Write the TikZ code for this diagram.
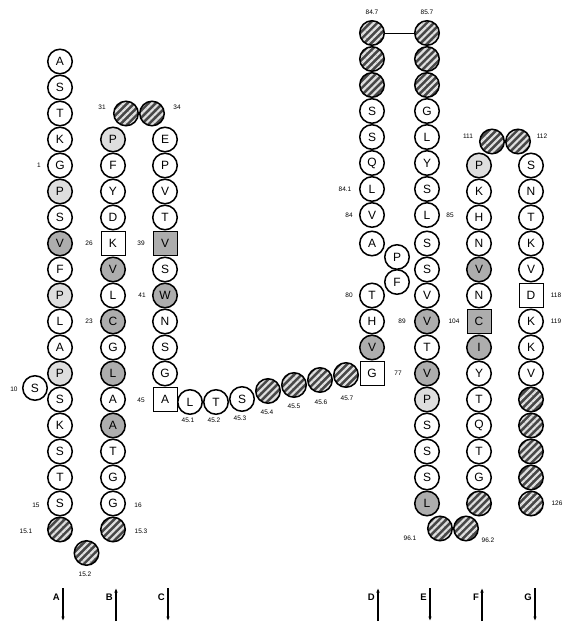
\documentclass[tikz,border=0pt]{standalone}
\usepackage{fontspec}
\setsansfont{Liberation Sans}
\usetikzlibrary{patterns.meta,arrows.meta}
\begin{document}
\begin{tikzpicture}[x=1pt,y=-1pt,
 res/.style={circle, draw, line width=1.5pt, minimum size=24.5pt, inner sep=0pt, fill=white, font=\sffamily\fontsize{12}{12}\selectfont},
 gr/.style={res, fill=black!32},
 lgr/.style={res, fill=black!13},
 sq/.style={rectangle, draw, line width=1pt, minimum size=24pt, inner sep=0pt, fill=white, font=\sffamily\fontsize{12}{12}\selectfont},
 sqg/.style={sq, fill=black!32},
 hat/.style={circle, draw, line width=1.5pt, minimum size=24.5pt, inner sep=0pt, preaction={fill=black!72}, pattern={Lines[angle=45,distance=5pt,line width=2.2pt]}, pattern color=white!88!black},
 lab/.style={font=\sffamily\fontsize{6.5}{6.5}\selectfont, inner sep=0pt},
 arr/.style={-{Latex[length=4.5pt,width=3.5pt]}, line width=1.1pt},
 alab/.style={font=\sffamily\bfseries\fontsize{9.5}{9.5}\selectfont, inner sep=0pt}
]
\useasboundingbox (0,0) rectangle (564,623);
% Helix A
\foreach \l/\s [count=\i from 0] in {A/res,S/res,T/res,K/res,G/res,P/lgr,S/res,V/gr,F/res,P/lgr,L/res,A/res,P/lgr,S/res,K/res,S/res,T/res,S/res}
  \node[\s] (a\i) at (60,{61.5+26*\i}) {\l};
\node[res] (aside) at (35,388) {S};
\node[hat] (l151) at (60,529.5) {};
\node[hat] (l152) at (86.5,553) {};
\node[hat] (l153) at (113,529.5) {};
% Helix B
\foreach \l/\s [count=\i from 3] in {P/lgr,F/res,Y/res,D/res,K/sq,V/gr,L/res,C/gr,G/res,L/gr,A/res,A/gr,T/res,G/res,G/res}
  \node[\s] (b\i) at (113,{61.5+26*\i}) {\l};
\node[hat] (l31) at (126,113.5) {};
\node[hat] (l34) at (152,113.5) {};
% Helix C
\foreach \l/\s [count=\i from 3] in {E/res,P/res,V/res,T/res,V/sqg,S/res,W/gr,N/res,S/res,G/res,A/sq}
  \node[\s] (c\i) at (165,{61.5+26*\i}) {\l};
% Horizontal segment
\node[res] (h1) at (190,402) {L};
\node[res] (h2) at (216,402) {T};
\node[res] (h3) at (242,399) {S};
\node[hat] (h4) at (268,391) {};
\node[hat] (h5) at (294,385) {};
\node[hat] (h6) at (320,380) {};
\node[hat] (h7) at (346,375) {};
% Helix D
\node[sq] (d77) at (372,373.5) {G};
\node[gr] (d78) at (372,347.5) {V};
\node[res] (d79) at (372,321.5) {H};
\node[res] (d80) at (372,295.5) {T};
\node[res] (d81) at (397,282) {F};
\node[res] (d82) at (397,257) {P};
\node[res] (d83) at (372,243.5) {A};
\foreach \l/\s [count=\i from 0] in {V/res,L/res,Q/res,S/res,S/res}
  \node[\s] (d\i) at (372,{215-26*\i}) {\l};
\node[hat] (d5) at (372,85) {};
\node[hat] (d6) at (372,59) {};
\node[hat] (d7) at (372,33) {};
% Helix E
\node[hat] (e7) at (427,33) {};
\node[hat] (e6) at (427,59) {};
\node[hat] (e5) at (427,85) {};
\foreach \l/\s [count=\i from 0] in {L/res,S/res,Y/res,L/res,G/res}
  \node[\s] (e\i) at (427,{215-26*\i}) {\l};
\foreach \l/\s [count=\i from 7] in {S/res,S/res,V/res,V/gr,T/res,V/gr,P/lgr,S/res,S/res,S/res,L/gr}
  \node[\s] (ee\i) at (427,{61.5+26*\i}) {\l};
\node[hat] (l961) at (440,528.5) {};
\node[hat] (l962) at (466,528.5) {};
% Helix F
\foreach \l/\s [count=\i from 4] in {P/lgr,K/res,H/res,N/res,V/gr,N/res,C/sqg,I/gr,Y/res,T/res,Q/res,T/res,G/res}
  \node[\s] (f\i) at (479,{61.5+26*\i}) {\l};
\node[hat] (f17) at (479,503.5) {};
\node[hat] (l111) at (492,141.5) {};
\node[hat] (l112) at (518,141.5) {};
% Helix G
\foreach \l/\s [count=\i from 4] in {S/res,N/res,T/res,K/res,V/res,D/sq,K/res,K/res,V/res}
  \node[\s] (g\i) at (531,{61.5+26*\i}) {\l};
\foreach \i in {13,...,17}
  \node[hat] (g\i) at (531,{61.5+26*\i}) {};
% connector at top
\draw[line width=0.9pt] (d7) -- (e7);
% labels
\node[lab] (t1) at (39,165.5) {1};
\node[lab] (t10) at (14,389) {10};
\node[lab] (t15) at (36,505) {15};
\node[lab] (t151) at (26,531) {15.1};
\node[lab] (t152) at (85,574) {15.2};
\node[lab] (t153) at (141,531) {15.3};
\node[lab] (t16) at (138,505) {16};
\node[lab] (t23) at (89,321.5) {23};
\node[lab] (t26) at (89,243.5) {26};
\node[lab] (t31) at (102,107) {31};
\node[lab] (t34) at (177,107) {34};
\node[lab] (t39) at (141,243.5) {39};
\node[lab] (t41) at (142,295.5) {41};
\node[lab] (t45) at (141,400) {45};
\node[lab] (t451) at (188,420) {45.1};
\node[lab] (t452) at (214,420) {45.2};
\node[lab] (t453) at (240,418) {45.3};
\node[lab] (t454) at (267,412) {45.4};
\node[lab] (t455) at (294,406) {45.5};
\node[lab] (t456) at (321,402) {45.6};
\node[lab] (t457) at (347,398) {45.7};
\node[lab] (t77) at (398,373.5) {77};
\node[lab] (t80) at (349,295.5) {80};
\node[lab] (t84) at (349,215) {84};
\node[lab] (t841) at (345,189) {84.1};
\node[lab] (t847) at (372,12) {84.7};
\node[lab] (t857) at (427,12) {85.7};
\node[lab] (t85) at (450,215) {85};
\node[lab] (t89) at (402,321.5) {89};
\node[lab] (t104) at (454,321.5) {104};
\node[lab] (t961) at (410,538) {96.1};
\node[lab] (t962) at (488,540) {96.2};
\node[lab] (t111) at (468,136) {111};
\node[lab] (t112) at (542,136) {112};
\node[lab] (t118) at (556,295.5) {118};
\node[lab] (t119) at (556,321.5) {119};
\node[lab] (t126) at (557,503.5) {126};
% direction arrows
\foreach \n/\x/\d in {A/63/1,B/116/0,C/168/1,D/378/0,E/430/1,F/482/0,G/535/1}{
  \coordinate (top\n) at (\x,588);
  \coordinate (bot\n) at (\x,621);
  \node[alab, anchor=east] (lab\n) at (\x-3,597) {\n};
  \ifnum\d=1 \draw[arr] (top\n) -- (bot\n); \else \draw[arr] (bot\n) -- (top\n); \fi
}
\end{tikzpicture}
\end{document}
